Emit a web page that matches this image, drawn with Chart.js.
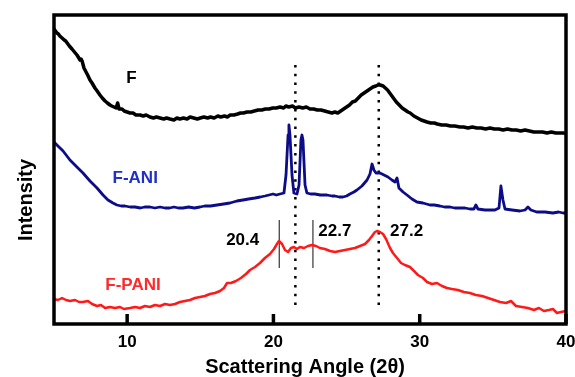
<!DOCTYPE html>
<html><head><meta charset="utf-8">
<script src="https://cdn.jsdelivr.net/npm/chart.js@4.4.1/dist/chart.umd.min.js"></script>
<style>html,body{margin:0;padding:0;background:#fff;}#wrap{width:575px;height:377px;position:relative;}</style>
</head><body><div id="wrap"><canvas id="c"></canvas></div>
<script>
const xTicks = [10, 20, 30, 40];

const angleF = [5.0,5.1,5.2,5.3,5.4,5.55,5.7,5.8,5.9,6.05,6.23,6.4,6.57,6.7,6.78,6.85,6.92,7.05,7.19,7.3,7.46,7.6,7.8,7.95,8.14,8.3,8.49,8.65,8.83,8.95,9.1,9.25,9.35,9.45,9.65,9.8,10.0,10.2,10.4,10.6,10.88,11.1,11.3,11.56,11.8,12.0,12.25,12.5,12.7,12.93,13.2,13.4,13.6,13.85,14.1,14.3,14.55,14.8,15.0,15.25,15.5,15.7,15.95,16.2,16.4,16.65,16.85,17.05,17.3,17.55,17.75,17.95,18.2,18.45,18.7,18.95,19.2,19.45,19.7,19.95,20.2,20.45,20.7,20.85,21.05,21.3,21.5,21.75,22.0,22.25,22.5,22.75,23.0,23.25,23.5,23.75,24.0,24.2,24.4,24.6,24.8,25.0,25.2,25.4,25.6,25.8,26.0,26.2,26.4,26.6,26.8,27.0,27.15,27.3,27.5,27.65,27.8,28.0,28.2,28.4,28.6,28.8,29.0,29.2,29.35,29.6,29.85,30.1,30.3,30.5,30.75,31.0,31.2,31.5,31.8,32.1,32.4,32.75,33.0,33.3,33.6,33.9,34.2,34.5,34.8,35.1,35.4,35.7,36.0,36.3,36.6,36.9,37.2,37.5,37.8,38.1,38.4,38.7,39.0,39.3,39.6,39.85,40.0];
const intensityF = [295,293,291,290,288,286,284,283,281,278,275,272,269,266,264,265,263,256,252,249,244,241,236,233,229,226,223,221,219,218,217,216,221,215,215,213,212,211,211,209,209,208,209,207,206,207,206,205,206,205,204,206,205,206,205,207,206,205,206,207,206,207,206,208,207,208,207,209,209,210,211,211,212,212,213,214,214,215,215,216,216,217,216,218,217,218,216,217,216,217,215,215,214,214,213,212,211,212,211,213,215,217,219,222,223,226,229,231,233,235,237,238,239,239,238,236,234,230,226,222,219,216,214,212,211,208,206,204,203,202,201,201,200,199,199,198,198,197,197,196,197,196,196,195,196,195,195,194,195,194,194,193,194,193,192,192,192,191,192,191,191,191,190];

const angleANI = [5.0,5.27,5.62,6.09,6.5,6.98,7.46,7.94,8.35,8.69,9.03,9.3,9.6,9.85,10.2,10.54,10.9,11.2,11.56,11.9,12.25,12.59,12.9,13.2,13.5,13.82,14.2,14.6,14.98,15.3,15.7,16.14,16.6,17.03,17.5,17.92,18.3,18.74,19.1,19.42,19.7,19.97,20.2,20.45,20.72,20.86,21.0,21.06,21.13,21.27,21.4,21.61,21.75,21.88,21.95,22.02,22.16,22.29,22.55,22.84,23.2,23.66,24.0,24.2,24.5,24.75,25.0,25.23,25.5,25.71,26.05,26.4,26.6,26.74,26.87,27.01,27.28,27.56,27.83,28.1,28.31,28.45,28.58,28.86,29.13,29.47,29.81,30.22,30.7,31.0,31.38,31.7,32.07,32.4,32.75,33.1,33.43,33.7,33.84,33.98,34.46,34.8,35.14,35.42,35.55,35.69,35.83,36.31,36.85,37.2,37.4,37.6,38.0,38.56,39.1,39.5,39.8,40.0];
const intensityANI = [182,178,173,164,158,151,143,136,129,124,121,119,118,118,117,117,116,117,117,116,117,116,116,117,116,116,117,116,117,118,118,119,120,121,123,124,125,126,127,128,129,130,129,130,131,149,189,199,189,149,131,130,139,184,189,184,139,131,130,130,129,129,128,128,127,127,128,130,132,134,138,144,150,160,154,151,151,149,147,144,142,146,136,132,129,125,122,121,119,119,118,117,117,116,116,116,115,115,119,115,114,114,114,116,138,124,115,114,113,114,117,114,112,112,111,112,111,111];

const anglePANI = [5.0,5.27,5.55,5.82,6.09,6.44,6.71,6.98,7.32,7.6,7.94,8.21,8.49,8.83,9.17,9.51,9.78,10.2,10.54,10.88,11.22,11.56,11.9,12.25,12.59,12.93,13.27,13.61,13.95,14.3,14.64,14.98,15.32,15.66,16.0,16.35,16.62,16.83,17.1,17.44,17.78,18.12,18.4,18.74,19.08,19.42,19.76,20.04,20.24,20.38,20.59,20.79,21.0,21.2,21.4,21.61,21.81,22.09,22.36,22.64,22.91,23.18,23.52,23.87,24.21,24.55,24.89,25.23,25.57,25.92,26.26,26.53,26.74,26.94,27.08,27.28,27.49,27.7,27.97,28.17,28.45,28.72,28.99,29.33,29.61,29.88,30.22,30.5,30.84,31.18,31.52,31.86,32.2,32.61,33.02,33.43,33.84,34.26,34.67,35.08,35.49,35.9,36.24,36.58,36.99,37.4,37.81,38.15,38.49,38.83,39.11,39.38,39.66,40.0];
const intensityPANI = [25,24,26,24,23,24,22,22,23,20,18,19,16,17,16,17,15,16,17,16,18,17,19,18,20,19,20,22,23,24,26,27,28,30,31,33,36,41,41,43,46,50,54,57,61,66,70,75,80,83,80,74,72,76,77,75,77,76,78,79,78,76,75,73,72,73,74,75,76,78,80,84,88,92,93,92,90,85,76,71,66,61,59,57,53,49,46,42,40,41,38,36,35,34,32,31,29,28,26,24,22,21,23,18,17,16,14,16,13,14,15,11,12,13];

const seriesNames = ['F', 'F-ANI', 'F-PANI'];
const seriesLabelAngles = [10.3, 10.55, 10.4];
const seriesLabelIntensity = [246, 146, 39];

const peakLabels = ['20.4', '22.7', '27.2'];
const peakLabelAngles = [17.9, 24.2, 29.1];
const peakLabelIntensity = [84, 93, 93];

const dotAngles = [21.5, 27.2];
const dotRange = [19, 261];
const markerAngles = [20.4, 22.7];
const markerRange = [56, 104];

const zip = (xs, ys) => xs.map((x, i) => ({x: x, y: ys[i]}));

const datasets = [];
dotAngles.forEach(a => datasets.push({
  data: dotRange.map(v => ({x: a, y: v})), borderColor: '#000', borderWidth: 2.5,
  borderDash: [2.5, 6.3], pointRadius: 0, order: 5
}));
markerAngles.forEach(a => datasets.push({
  data: markerRange.map(v => ({x: a, y: v})), borderColor: '#444', borderWidth: 1.3,
  pointRadius: 0, order: 4
}));
datasets.push({label: seriesNames[0], data: zip(angleF, intensityF), borderColor: '#000', borderWidth: 3.5, borderJoinStyle: 'round', pointRadius: 0, tension: 0, order: 1});
datasets.push({label: seriesNames[1], data: zip(angleANI, intensityANI), borderColor: '#0c0c88', borderWidth: 2.8, borderJoinStyle: 'round', pointRadius: 0, tension: 0, order: 2});
datasets.push({label: seriesNames[2], data: zip(anglePANI, intensityPANI), borderColor: '#ff1a1a', borderWidth: 2.5, borderJoinStyle: 'round', pointRadius: 0, tension: 0, order: 3});

const FONT = '"Liberation Sans", Arial, sans-serif';

const deco = {
  id: 'deco',
  afterDraw(chart) {
    const {ctx, chartArea: ca, scales: {x, y}} = chart;
    ctx.save();
    ctx.strokeStyle = '#000'; ctx.lineWidth = 3.5;
    xTicks.forEach(t => {
      const px = x.getPixelForValue(t);
      ctx.beginPath(); ctx.moveTo(px, ca.bottom); ctx.lineTo(px, ca.bottom - 10); ctx.stroke();
    });
    ctx.strokeRect(ca.left, ca.top, ca.right - ca.left, ca.bottom - ca.top);
    const colors = ['#000', '#2030c8', '#ff2a2a'];
    ctx.font = 'bold 17px ' + FONT;
    ctx.textAlign = 'center'; ctx.textBaseline = 'middle';
    seriesNames.forEach((n, i) => {
      ctx.fillStyle = colors[i];
      ctx.fillText(n, x.getPixelForValue(seriesLabelAngles[i]), y.getPixelForValue(seriesLabelIntensity[i]));
    });
    ctx.fillStyle = '#000';
    peakLabels.forEach((n, i) => {
      ctx.fillText(n, x.getPixelForValue(peakLabelAngles[i]), y.getPixelForValue(peakLabelIntensity[i]));
    });
    ctx.font = 'bold 20px ' + FONT;
    ctx.textBaseline = 'alphabetic';
    ctx.fillText('Scattering Angle (2\u03b8)', (ca.left + ca.right) / 2 - 5, ca.bottom + 49);
    ctx.translate(ca.left - 22, ca.bottom - 124);
    ctx.rotate(-Math.PI / 2);
    ctx.fillText('Intensity', 0, 0);
    ctx.restore();
  }
};

new Chart(document.getElementById('c'), {
  type: 'line',
  data: {datasets: datasets},
  options: {
    responsive: true, maintainAspectRatio: false, animation: false,
    layout: {padding: {top: 15, right: 9, left: 0, bottom: 0}},
    plugins: {legend: {display: false}, tooltip: {enabled: false}},
    scales: {
      x: {
        type: 'linear', min: 5, max: 40,
        afterBuildTicks: s => { s.ticks = xTicks.map(v => ({value: v})); },
        afterFit: s => { s.height = 53; s.paddingLeft = 0; s.paddingRight = 0; },
        grid: {display: false, drawTicks: false},
        border: {display: false},
        ticks: {color: '#000', padding: 8, maxRotation: 0, font: {family: FONT, size: 17, weight: 'bold'}}
      },
      y: {
        type: 'linear', min: 0, max: 309,
        afterFit: s => { s.width = 54; s.paddingTop = 0; s.paddingBottom = 0; },
        grid: {display: false, drawTicks: false},
        border: {display: false},
        ticks: {display: false}
      }
    }
  },
  plugins: [deco]
});
</script>
</body></html>
